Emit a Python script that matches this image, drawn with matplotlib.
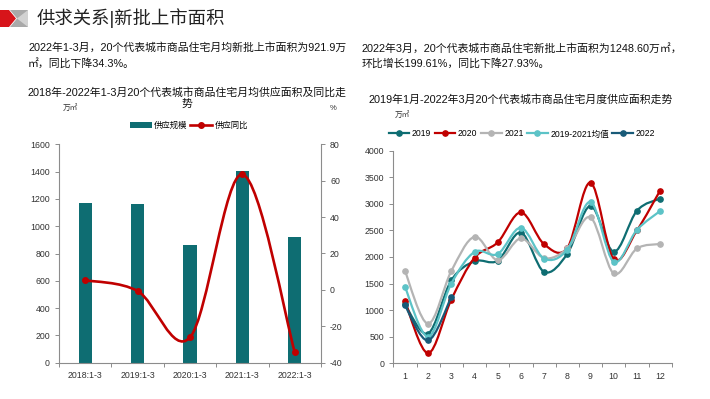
import numpy as np
import matplotlib
matplotlib.use("Agg")
import matplotlib.pyplot as plt
from matplotlib.path import Path
from matplotlib.patches import PathPatch, Polygon, Patch
from matplotlib.lines import Line2D

plt.rcParams["font.family"] = ["Liberation Sans", "Noto Sans CJK SC", "DejaVu Sans"]
plt.rcParams["axes.unicode_minus"] = False

# ── data ────────────────────────────────────────────────────────────────
periods   = ["2018:1-3", "2019:1-3", "2020:1-3", "2021:1-3", "2022:1-3"]
supply    = [1168, 1160, 860, 1405, 921.9]       # 万㎡
yoy       = [5.3, -0.6, -26.1, 63.5, -34.3]      # %

months    = [1, 2, 3, 4, 5, 6, 7, 8, 9, 10, 11, 12]
s2019     = [1110, 560, 1560, 1920, 1930, 2460, 1720, 2060, 2960, 2100, 2870, 3100]
s2020     = [1170, 190, 1200, 1985, 2275, 2840, 2240, 2170, 3400, 1960, 2500, 3250]
s2021     = [1740, 745, 1735, 2380, 1940, 2350, 1980, 2160, 2745, 1690, 2160, 2245]
s_avg     = [1440, 500, 1500, 2095, 2055, 2550, 1970, 2140, 3035, 1910, 2510, 2865]
s2022     = [1090, 430, 1245]

TEAL  = "#0e6d72"
RED   = "#c00000"
GREY  = "#b4b4b4"
LTEAL = "#5cc3c7"
NAVY  = "#185a78"
SPINE = "#8c8c8c"
TXT   = "#333333"


def smooth_path(xs, ys):
    """Excel-style smoothed line: cubic bezier through every data point."""
    pts = np.column_stack([xs, ys]).astype(float)
    n = len(pts)
    verts = [pts[0]]
    codes = [Path.MOVETO]
    for i in range(n - 1):
        p0 = pts[i - 1] if i > 0 else pts[i]
        p1, p2 = pts[i], pts[i + 1]
        p3 = pts[i + 2] if i + 2 < n else pts[i + 1]
        c1 = p1 + (p2 - p0) / 6.0
        c2 = p2 - (p3 - p1) / 6.0
        verts += [c1, c2, p2]
        codes += [Path.CURVE4] * 3
    return Path(verts, codes)


def draw_smooth(ax, xs, ys, color, lw, ms, z):
    ax.add_patch(PathPatch(smooth_path(xs, ys), fill=False, edgecolor=color,
                           lw=lw, capstyle="round", joinstyle="round", zorder=z))
    ax.plot(xs, ys, ls="none", marker="o", ms=ms, color=color, zorder=z + 0.5)


W, H = 710, 399
fig = plt.figure(figsize=(W / 100, H / 100), dpi=100)
fig.patch.set_facecolor("white")


def px(x, y):
    return x / W, 1 - y / H


def rect(x0, y0, x1, y1):
    return [x0 / W, 1 - y1 / H, (x1 - x0) / W, (y1 - y0) / H]


# ── header ──────────────────────────────────────────────────────────────
grey_poly = [px(10, 10), px(28, 10), px(28, 27), px(10, 27), px(17, 18.5)]
red_poly  = [px(0, 10), px(9, 10), px(16, 18.5), px(9, 27), px(0, 27)]
fig.patches.append(Polygon(grey_poly, closed=True, transform=fig.transFigure,
                           facecolor="#a9a9a9", edgecolor="none"))
fig.patches.append(Polygon([px(17, 18.5), px(28, 10), px(28, 27)], closed=True,
                           transform=fig.transFigure, facecolor="#d2d2d2", edgecolor="none"))
fig.patches.append(Polygon(red_poly, closed=True, transform=fig.transFigure,
                           facecolor="#d7141a", edgecolor="none"))
fig.text(*px(37, 18), "供求关系|新批上市面积", fontsize=13.2, color="#222222",
         va="center", ha="left")

body = dict(fontsize=7.8, color="#111111", va="center", ha="left")
fig.text(*px(28, 48), "2022年1-3月，20个代表城市商品住宅月均新批上市面积为921.9万", **body)
fig.text(*px(28, 63), "㎡，同比下降34.3%。", **body)
fig.text(*px(362, 48), "2022年3月，20个代表城市商品住宅新批上市面积为1248.60万㎡，", **body)
fig.text(*px(362, 63), "环比增长199.61%，同比下降27.93%。", **body)

fig.text(*px(187, 92), "2018年-2022年1-3月20个代表城市商品住宅月均供应面积及同比走",
         fontsize=7.8, color="#111111", ha="center", va="center")
fig.text(*px(187, 104), "势", fontsize=7.8, color="#111111", ha="center", va="center")
fig.text(*px(70, 108), "万㎡", fontsize=5.5, color=TXT, ha="center", va="center")
fig.text(*px(333, 108), "%", fontsize=5.5, color=TXT, ha="center", va="center")

fig.text(*px(521, 99), "2019年1月-2022年3月20个代表城市商品住宅月度供应面积走势",
         fontsize=7.8, color="#111111", ha="center", va="center")
fig.text(*px(402, 115), "万㎡", fontsize=5.5, color=TXT, ha="center", va="center")


def style_axis(ax, sides):
    for s in ["top", "right", "left", "bottom"]:
        ax.spines[s].set_visible(s in sides)
        ax.spines[s].set_color(SPINE)
        ax.spines[s].set_linewidth(0.8)
    ax.tick_params(colors=SPINE, labelcolor=TXT, labelsize=6.3, width=0.7, length=3)


# ── left chart: bars + yoy line ─────────────────────────────────────────
axl = fig.add_axes(rect(59, 144.3, 321, 362.7))
x = np.arange(len(periods))
axl.bar(x, supply, width=0.25, color=TEAL, zorder=2)
axl.set_xlim(-0.5, len(periods) - 0.5)
axl.set_ylim(0, 1600)
axl.set_yticks(range(0, 1601, 200))
axl.set_xticks(x)
axl.set_xticklabels(periods)
axl.set_xticks(np.arange(-0.5, len(periods), 1.0), minor=True)
style_axis(axl, ["left", "bottom"])
axl.tick_params(axis="x", which="major", length=0, pad=6)
axl.tick_params(axis="x", which="minor", length=3, color=SPINE, width=0.7)

axr = axl.twinx()
axr.set_ylim(-40, 80)
axr.set_yticks(range(-40, 81, 20))
style_axis(axr, ["right"])
axr.spines["bottom"].set_visible(False)
draw_smooth(axr, x, yoy, RED, 1.9, 4.0, 3)

lh = [Patch(facecolor=TEAL, label="供应规模"),
      Line2D([], [], color=RED, lw=1.9, marker="o", ms=4, label="供应同比")]
fig.legend(handles=lh, loc="center", bbox_to_anchor=px(189, 126), ncol=2,
           frameon=False, fontsize=6, handlelength=2.6, handleheight=0.7,
           columnspacing=0.3, handletextpad=0.3)

# ── right chart: monthly supply lines ───────────────────────────────────
axm = fig.add_axes(rect(393.3, 150.7, 671.7, 363.3))
axm.set_xlim(0.5, 12.5)
axm.set_ylim(0, 4000)
axm.set_yticks(range(0, 4001, 500))
axm.set_xticks(months)
axm.set_xticks(np.arange(0.5, 12.6, 1.0), minor=True)
style_axis(axm, ["left", "bottom"])
axm.tick_params(axis="x", which="major", length=0, pad=6)
axm.tick_params(axis="x", which="minor", length=3, color=SPINE, width=0.7)

series = [("2019", s2019, TEAL), ("2020", s2020, RED), ("2021", s2021, GREY),
          ("2019-2021均值", s_avg, LTEAL), ("2022", s2022, NAVY)]
for i, (name, vals, col) in enumerate(series):
    draw_smooth(axm, months[:len(vals)], vals, col, 1.6, 3.8, 2 + i)

mh = [Line2D([], [], color=c, lw=1.6, marker="o", ms=3.8, label=n) for n, _, c in series]
fig.legend(handles=mh, loc="center", bbox_to_anchor=px(522, 134), ncol=5,
           frameon=False, fontsize=6.2, handlelength=2.4, columnspacing=0.4,
           handletextpad=0.3)

fig.savefig("out.png", dpi=100, facecolor="white")
